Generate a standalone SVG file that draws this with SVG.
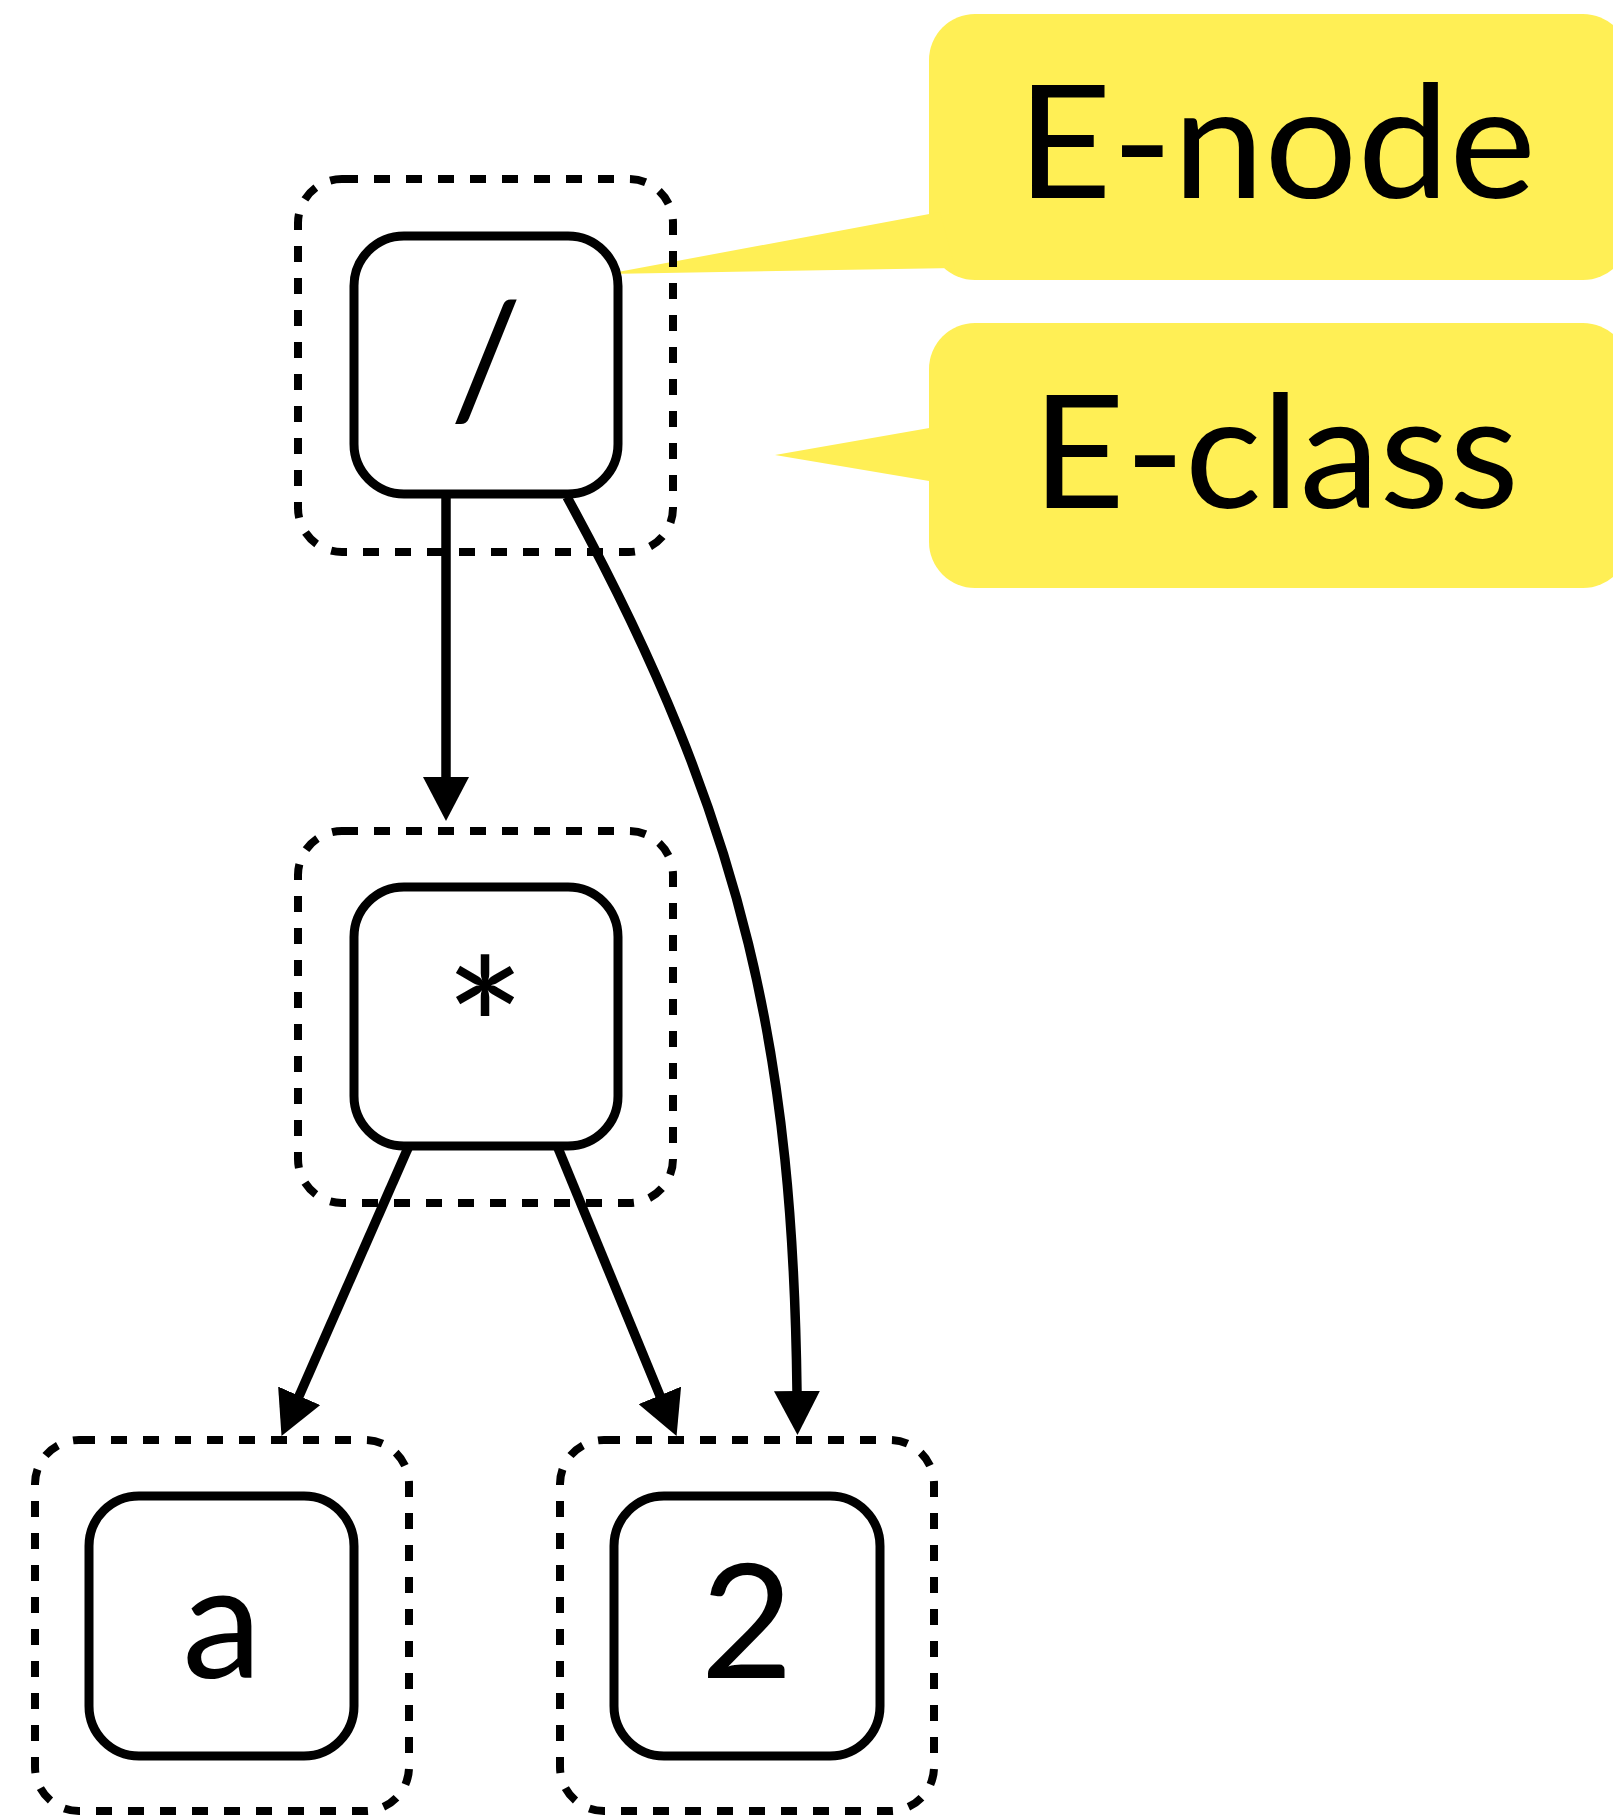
<svg xmlns="http://www.w3.org/2000/svg" width="1613" height="1815" viewBox="0 0 1613 1815">
<defs>
<style>
.eclass{fill:none;stroke:#000;stroke-width:8;stroke-dasharray:16 16}
.enode{fill:#fff;stroke:#000;stroke-width:9}
.lbl{font-family:Lato,"Noto Sans","Liberation Sans",sans-serif;font-size:160px;fill:#000;text-anchor:middle}
.callout{fill:#FFEF55}
.ctext{font-family:Lato,"Noto Sans","Liberation Sans",sans-serif;font-size:158px;fill:#000}
.edge{fill:none;stroke:#000;stroke-width:9.5;marker-end:url(#arrow)}
</style>
<marker id="arrow" markerUnits="userSpaceOnUse" markerWidth="46" markerHeight="46" viewBox="0 0 46 46" refX="1" refY="23" orient="auto">
<path d="M0,0 L44,23 L0,46 Z" fill="#000"/>
</marker>
</defs>
<rect width="1613" height="1815" fill="#fff"/>

<g id="callout-enode">
<rect class="callout" x="929" y="14" width="700" height="266" rx="46" ry="46"/>
<polygon class="callout" points="607,274 940,212 955,268"/>
<text class="ctext" x="1017" y="198" textLength="519" lengthAdjust="spacingAndGlyphs">E-node</text>
</g>
<g id="callout-eclass">
<rect class="callout" x="929" y="323" width="700" height="265" rx="46" ry="46"/>
<polygon class="callout" points="775,455 935,427 935,482"/>
<text class="ctext" x="1032" y="508" textLength="487" lengthAdjust="spacingAndGlyphs">E-class</text>
</g>

<g id="node-div">
<rect class="eclass" x="298" y="179" width="375" height="373" rx="44" ry="44"/>
<rect class="enode" x="354" y="236" width="264" height="258" rx="50" ry="50"/>
<text class="lbl" x="486" y="417">/</text>
</g>
<g id="node-mul">
<rect class="eclass" x="298" y="831" width="375" height="372" rx="44" ry="44"/>
<rect class="enode" x="354" y="887" width="264" height="259" rx="50" ry="50"/>
<text class="lbl" x="485" y="1099" style="font-size:193px">*</text>
</g>
<g id="node-a">
<rect class="eclass" x="35" y="1440" width="374" height="371" rx="44" ry="44"/>
<rect class="enode" x="89" y="1496" width="265" height="260" rx="50" ry="50"/>
<text class="lbl" x="222" y="1678">a</text>
</g>
<g id="node-2">
<rect class="eclass" x="560" y="1440" width="374" height="371" rx="44" ry="44"/>
<rect class="enode" x="614" y="1496" width="266" height="260" rx="50" ry="50"/>
<text class="lbl" x="747" y="1678">2</text>
</g>

<g id="connectors">
<path class="edge" d="M446,494 L446,778"/>
<path class="edge" d="M567,497 C748,827 793,1060 797,1392"/>
<path class="edge" d="M408,1148 L298.8,1396.7"/>
<path class="edge" d="M558,1148 L660.2,1396.3"/>
</g>
</svg>
